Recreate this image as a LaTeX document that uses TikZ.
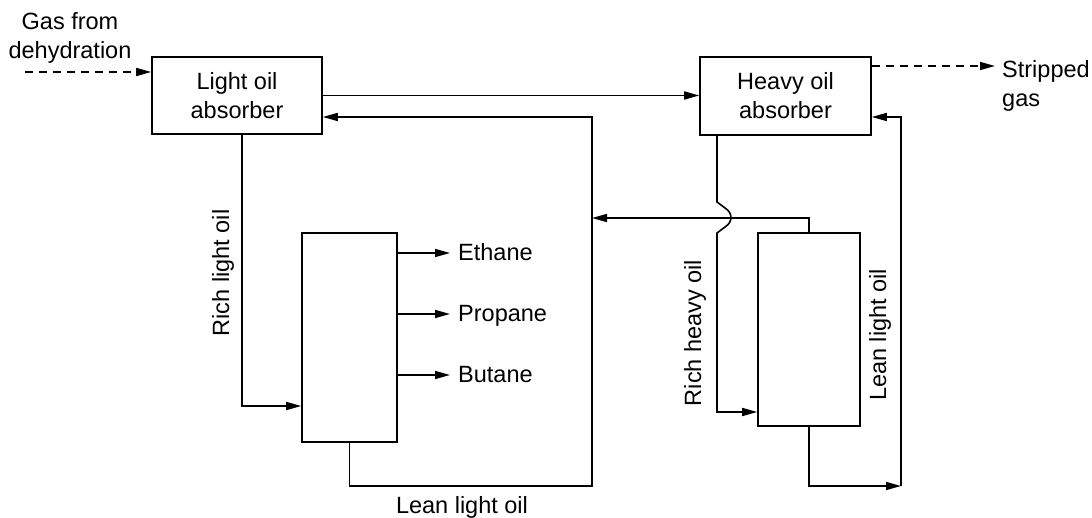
\documentclass[tikz,border=0pt]{standalone}
\usepackage{fontspec}
\setmainfont{Liberation Sans}
\usetikzlibrary{arrows.meta,calc}
\tikzset{
  box/.style={draw, line width=1.6pt, align=center, inner sep=0pt},
  pipe/.style={line width=1.6pt},
  flow/.style={pipe, -{Triangle[length=15pt,width=8pt]}},
  gasflow/.style={flow, dash pattern=on 8pt off 6pt},
  lbl/.style={align=center, inner sep=0pt},
}
\begin{document}
\begin{tikzpicture}[x=1pt,y=-1pt, font=\fontsize{23.5}{29}\selectfont]
\useasboundingbox (0,0) rectangle (1092,518);
% units
\node[box, minimum width=170pt, minimum height=77pt] (LA) at (237,95.5) {Light oil\\absorber};
\node[box, minimum width=171pt, minimum height=78pt] (HA) at (785.5,96) {Heavy oil\\absorber};
\node[box, minimum width=95pt, minimum height=209pt] (C1) at (349.5,337.5) {};
\node[box, minimum width=102pt, minimum height=193pt] (C2) at (809,329.5) {};
% gas in / out
\coordinate (gasin) at (25,72);
\draw[gasflow] (gasin) -- (gasin -| LA.west);
\node[lbl, anchor=north] (gasl) at (70,12) {Gas from\\dehydration};
\draw[flow] (LA.east) -- (LA.east -| HA.west);
\coordinate (sg) at (995,66);
\draw[gasflow] (sg -| HA.east) -- (sg);
\node[lbl, anchor=north west, align=left] (sgl) at (1002,60) {Stripped\\gas};
% rich light oil
\coordinate (rl) at (242,406);
\draw[flow] (rl |- LA.south) -- (rl) -- (rl -| C1.west);
\node[lbl, rotate=90] (rllab) at (223,273) {Rich light oil};
% lean light oil return to light absorber
\coordinate (r1) at (592,486);
\coordinate (rt) at (592,117);
\draw[flow] (C1.south) |- (r1) -- (rt) -- (rt -| LA.east);
\node[lbl, anchor=north] (lllab) at (462,496) {Lean light oil};
% products
\foreach \yy/\nn/\tt in {253/eth/Ethane, 314/pro/Propane, 375/but/Butane}{
  \coordinate (p\nn) at (450,\yy);
  \draw[flow] (p\nn -| C1.east) -- (p\nn);
  \node[lbl, anchor=base west] (\nn) at (458,{\yy+8}) {\tt};
}
% C2 top back to return line
\coordinate (j) at (808,218);
\draw[flow] (C2.north) -- (C2.north |- j) -- (j -| rt);
% rich heavy oil with jump
\coordinate (rh) at (717,412);
\draw[flow] (rh |- HA.south) -- ($(rh |- j)+(0,-16)$) -- ++(8,6)
  .. controls +(8,5) and +(8,-5) .. ++(0,19) -- ++(-8,6) -- (rh) -- (rh -| C2.west);
\node[lbl, rotate=90] (rhlab) at (695,333) {Rich heavy oil};
% lean light oil to heavy absorber
\coordinate (b2) at (901,486);
\coordinate (ht) at (901,117);
\draw[flow] (C2.south) |- (b2);
\draw[flow] (b2) -- (ht) -- (ht -| HA.east);
\node[lbl, rotate=90] (lhlab) at (880,335) {Lean light oil};
\end{tikzpicture}
\end{document}
